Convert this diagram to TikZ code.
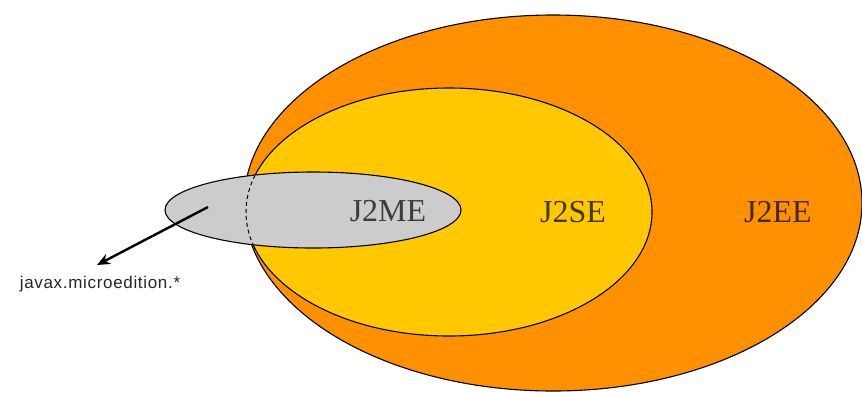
\documentclass[tikz,border=0pt]{standalone}
\usepackage{fontspec}
\setmainfont{Liberation Serif}
\newfontfamily\lblfont[LetterSpace=4]{Liberation Sans}
\usetikzlibrary{shapes.geometric,arrows.meta}
\definecolor{eeorange}{RGB}{255,145,0}
\definecolor{seyellow}{RGB}{255,200,0}
\definecolor{megray}{RGB}{204,204,204}
\definecolor{metext}{RGB}{60,60,60}
\definecolor{setext}{RGB}{70,55,0}
\definecolor{eetext}{RGB}{70,40,0}
\tikzset{
  blob/.style={ellipse, draw=black, line width=1.1pt, inner sep=0pt},
  bigtext/.style={font=\fontsize{32}{32}\selectfont, inner sep=0pt},
}
\begin{document}
\begin{tikzpicture}[x=1pt,y=-1pt]
\useasboundingbox (0,0) rectangle (862,392);
\begin{scope}
\clip (0,0) rectangle (862,392);
\node[blob, fill=eeorange, minimum width=618pt, minimum height=376pt] (ee) at (553,203) {};
\end{scope}
\node[blob, fill=seyellow, minimum width=406pt, minimum height=248pt] (se) at (449,212) {};
\node[blob, fill=megray, minimum width=296pt, minimum height=76pt] (me) at (313,210) {};
\begin{scope}
\clip (313,210) ellipse [x radius=147pt, y radius=37pt];
\draw[line width=1pt, dash pattern=on 4pt off 3pt] (449,212) ellipse [x radius=203pt, y radius=124pt];
\end{scope}
\node[bigtext, text=metext] (tme) at (388,211) {J2ME};
\node[bigtext, text=setext] (tse) at (573,212) {J2SE};
\node[bigtext, text=eetext] (tee) at (778,212) {J2EE};
\node[font=\lblfont\fontsize{17}{17}\selectfont, text=black!85, inner sep=0pt] (lbl) at (100,284) {javax.microedition.*};
\coordinate (src) at (208,207);
\coordinate (tip) at (97,265);
\draw[line width=2.4pt, -{Stealth[length=13pt,width=11pt]}] (src) -- (tip);
\end{tikzpicture}
\end{document}
